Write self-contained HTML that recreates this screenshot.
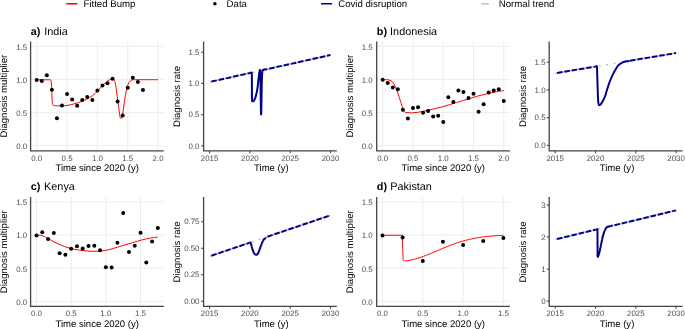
<!DOCTYPE html>
<html><head><meta charset="utf-8"><title>Diagnosis multiplier</title>
<style>
html,body{margin:0;padding:0;background:#fff;}
body{width:685px;height:329px;overflow:hidden;}
svg{display:block;will-change:transform;}
text{font-family:"Liberation Sans", sans-serif;text-rendering:geometricPrecision;}
</style></head><body>
<svg width="685" height="329" viewBox="0 0 685 329">
<rect width="685" height="329" fill="#fff"/>
<line x1="66.8" y1="3.8" x2="76.8" y2="3.8" stroke="#ff0000" stroke-width="1.5" stroke-linecap="round"/>
<text x="83.5" y="6.8" font-size="9.65" fill="#000" text-anchor="start" font-weight="normal">Fitted Bump</text>
<circle cx="214.9" cy="3.8" r="1.75" fill="#000"/>
<text x="226.6" y="6.8" font-size="9.65" fill="#000" text-anchor="start" font-weight="normal">Data</text>
<line x1="321.7" y1="3.8" x2="331.5" y2="3.8" stroke="#00008b" stroke-width="1.6" stroke-linecap="round"/>
<text x="338.2" y="6.8" font-size="9.65" fill="#000" text-anchor="start" font-weight="normal">Covid disruption</text>
<line x1="481.95" y1="3.8" x2="488.35" y2="3.8" stroke="#bebebe" stroke-width="1.5" stroke-linecap="round"/>
<text x="498.8" y="6.8" font-size="9.65" fill="#000" text-anchor="start" font-weight="normal">Normal trend</text>
<line x1="30.4" y1="145.75" x2="163.7" y2="145.75" stroke="#ebebeb" stroke-width="0.9"/>
<line x1="30.4" y1="112.6" x2="163.7" y2="112.6" stroke="#ebebeb" stroke-width="0.9"/>
<line x1="30.4" y1="79.45" x2="163.7" y2="79.45" stroke="#ebebeb" stroke-width="0.9"/>
<line x1="30.4" y1="46.3" x2="163.7" y2="46.3" stroke="#ebebeb" stroke-width="0.9"/>
<line x1="36.7" y1="41.5" x2="36.7" y2="150.8" stroke="#ebebeb" stroke-width="0.9"/>
<line x1="67.05" y1="41.5" x2="67.05" y2="150.8" stroke="#ebebeb" stroke-width="0.9"/>
<line x1="97.4" y1="41.5" x2="97.4" y2="150.8" stroke="#ebebeb" stroke-width="0.9"/>
<line x1="127.75" y1="41.5" x2="127.75" y2="150.8" stroke="#ebebeb" stroke-width="0.9"/>
<line x1="158.1" y1="41.5" x2="158.1" y2="150.8" stroke="#ebebeb" stroke-width="0.9"/>
<text x="27.2" y="149.35" font-size="7.9" fill="#4d4d4d" text-anchor="end" font-weight="normal">0.0</text>
<text x="27.2" y="116.2" font-size="7.9" fill="#4d4d4d" text-anchor="end" font-weight="normal">0.5</text>
<text x="27.2" y="83.05" font-size="7.9" fill="#4d4d4d" text-anchor="end" font-weight="normal">1.0</text>
<text x="27.2" y="49.9" font-size="7.9" fill="#4d4d4d" text-anchor="end" font-weight="normal">1.5</text>
<text x="36.7" y="160.7" font-size="7.9" fill="#4d4d4d" text-anchor="middle" font-weight="normal">0.0</text>
<text x="67.05" y="160.7" font-size="7.9" fill="#4d4d4d" text-anchor="middle" font-weight="normal">0.5</text>
<text x="97.4" y="160.7" font-size="7.9" fill="#4d4d4d" text-anchor="middle" font-weight="normal">1.0</text>
<text x="127.75" y="160.7" font-size="7.9" fill="#4d4d4d" text-anchor="middle" font-weight="normal">1.5</text>
<text x="158.1" y="160.7" font-size="7.9" fill="#4d4d4d" text-anchor="middle" font-weight="normal">2.0</text>
<text x="30.7" y="34.6" font-size="10.85" fill="#000" font-weight="bold">a)</text>
<text x="44.3" y="34.6" font-size="10.85" fill="#000">India</text>
<text x="97.2" y="171" font-size="9.55" fill="#000" text-anchor="middle" font-weight="normal">Time since 2020 (y)</text>
<text x="0" y="0" font-size="9.55" fill="#000" text-anchor="middle" transform="translate(6.9 96.15) rotate(-90)">Diagnosis multiplier</text>
<path d="M36.7 79.8 C38.8 79.8 47 79.75 49.3 79.8 C51.6 79.85 50.17 79.77 50.5 80.1 C50.83 80.43 51.12 80.77 51.3 81.8 C51.48 82.83 51.52 84.55 51.6 86.3 C51.68 88.05 51.73 90.3 51.8 92.3 C51.87 94.3 51.92 96.63 52 98.3 C52.08 99.97 52.17 101.22 52.3 102.3 C52.43 103.38 52.53 104.25 52.8 104.8 C53.07 105.35 53.37 105.43 53.9 105.6 C54.43 105.77 54.65 105.77 56 105.8 C57.35 105.83 60 105.88 62 105.8 C64 105.72 65.83 105.67 68 105.3 C70.17 104.93 72.67 104.27 75 103.6 C77.33 102.93 79.57 102.32 82 101.3 C84.43 100.28 87.43 98.78 89.6 97.5 C91.77 96.22 93.27 95.15 95 93.6 C96.73 92.05 98.33 89.92 100 88.2 C101.67 86.48 103.67 84.55 105 83.3 C106.33 82.05 106.98 81.4 108 80.7 C109.02 80 110.2 79.37 111.1 79.1 C112 78.83 112.77 78.72 113.4 79.1 C114.03 79.48 114.47 80 114.9 81.4 C115.33 82.8 115.62 84.97 116 87.5 C116.38 90.03 116.75 93.3 117.2 96.6 C117.65 99.9 118.27 104.12 118.7 107.3 C119.13 110.48 119.47 113.87 119.8 115.7 C120.13 117.53 120.38 117.97 120.7 118.3 C121.02 118.63 121.32 118.77 121.7 117.7 C122.08 116.63 122.53 114.65 123 111.9 C123.47 109.15 123.95 104.75 124.5 101.2 C125.05 97.65 125.7 93.38 126.3 90.6 C126.9 87.82 127.47 86.08 128.1 84.5 C128.73 82.92 129.25 81.88 130.1 81.1 C130.95 80.32 131.55 80.03 133.2 79.8 C134.85 79.57 135.85 79.72 140 79.7 C144.15 79.68 155.08 79.7 158.1 79.7" fill="none" stroke="#ff0000" stroke-width="1" stroke-linejoin="round"/>
<circle cx="36.7" cy="79.93" r="2.0" fill="#000"/>
<circle cx="41.76" cy="80.92" r="2.0" fill="#000"/>
<circle cx="46.82" cy="75.18" r="2.0" fill="#000"/>
<circle cx="51.88" cy="89.7" r="2.0" fill="#000"/>
<circle cx="56.93" cy="118.21" r="2.0" fill="#000"/>
<circle cx="61.99" cy="105.61" r="2.0" fill="#000"/>
<circle cx="67.05" cy="93.92" r="2.0" fill="#000"/>
<circle cx="72.11" cy="99.4" r="2.0" fill="#000"/>
<circle cx="77.17" cy="105.8" r="2.0" fill="#000"/>
<circle cx="82.23" cy="99.93" r="2.0" fill="#000"/>
<circle cx="87.28" cy="96.89" r="2.0" fill="#000"/>
<circle cx="92.34" cy="99.93" r="2.0" fill="#000"/>
<circle cx="97.4" cy="90.49" r="2.0" fill="#000"/>
<circle cx="102.46" cy="85.41" r="2.0" fill="#000"/>
<circle cx="107.52" cy="83.3" r="2.0" fill="#000"/>
<circle cx="112.58" cy="78.81" r="2.0" fill="#000"/>
<circle cx="117.63" cy="101.38" r="2.0" fill="#000"/>
<circle cx="122.69" cy="115.57" r="2.0" fill="#000"/>
<circle cx="127.75" cy="87.72" r="2.0" fill="#000"/>
<circle cx="132.81" cy="77.69" r="2.0" fill="#000"/>
<circle cx="137.87" cy="81.98" r="2.0" fill="#000"/>
<circle cx="142.93" cy="89.9" r="2.0" fill="#000"/>
<path d="M30.6 41.5 V150.8 H163.8" fill="none" stroke="#444444" stroke-width="1.3"/>
<line x1="201.2" y1="145.9" x2="203.6" y2="145.9" stroke="#444444" stroke-width="1.1"/>
<text x="199.5" y="148.5" font-size="7.9" fill="#4d4d4d" text-anchor="end" font-weight="normal">0.0</text>
<line x1="201.2" y1="114.67" x2="203.6" y2="114.67" stroke="#444444" stroke-width="1.1"/>
<text x="199.5" y="117.27" font-size="7.9" fill="#4d4d4d" text-anchor="end" font-weight="normal">0.5</text>
<line x1="201.2" y1="83.43" x2="203.6" y2="83.43" stroke="#444444" stroke-width="1.1"/>
<text x="199.5" y="86.03" font-size="7.9" fill="#4d4d4d" text-anchor="end" font-weight="normal">1.0</text>
<line x1="201.2" y1="52.2" x2="203.6" y2="52.2" stroke="#444444" stroke-width="1.1"/>
<text x="199.5" y="54.8" font-size="7.9" fill="#4d4d4d" text-anchor="end" font-weight="normal">1.5</text>
<line x1="209.6" y1="150.8" x2="209.6" y2="153.2" stroke="#444444" stroke-width="1.1"/>
<text x="209.6" y="160.7" font-size="7.9" fill="#4d4d4d" text-anchor="middle" font-weight="normal">2015</text>
<line x1="249.9" y1="150.8" x2="249.9" y2="153.2" stroke="#444444" stroke-width="1.1"/>
<text x="249.9" y="160.7" font-size="7.9" fill="#4d4d4d" text-anchor="middle" font-weight="normal">2020</text>
<line x1="290.2" y1="150.8" x2="290.2" y2="153.2" stroke="#444444" stroke-width="1.1"/>
<text x="290.2" y="160.7" font-size="7.9" fill="#4d4d4d" text-anchor="middle" font-weight="normal">2025</text>
<line x1="330.5" y1="150.8" x2="330.5" y2="153.2" stroke="#444444" stroke-width="1.1"/>
<text x="330.5" y="160.7" font-size="7.9" fill="#4d4d4d" text-anchor="middle" font-weight="normal">2030</text>
<text x="271.4" y="171" font-size="9.55" fill="#000" text-anchor="middle" font-weight="normal">Time (y)</text>
<text x="0" y="0" font-size="9.55" fill="#000" text-anchor="middle" transform="translate(179.9 96.45) rotate(-90)">Diagnosis rate</text>
<path d="M203.6 41.5 V150.8 H336.8" fill="none" stroke="#444444" stroke-width="1.3"/>
<line x1="209.6" y1="81.99" x2="330.5" y2="55.01" stroke="#bebebe" stroke-width="1.5" stroke-dasharray="1.85 5.55" stroke-dashoffset="0"/>
<line x1="209.6" y1="81.99" x2="249.9" y2="73" stroke="#00008b" stroke-width="2.0" stroke-dasharray="5.55 1.85" stroke-dashoffset="5.55"/>
<line x1="266.02" y1="69.4" x2="330.5" y2="55.01" stroke="#00008b" stroke-width="2.0" stroke-dasharray="5.55 1.85" stroke-dashoffset="4.16"/>
<path d="M249.9 73 C249.9 73 249.93 72.99 249.94 72.99 C249.95 72.99 249.97 72.98 249.98 72.98 C249.99 72.98 250.01 72.97 250.02 72.97 C250.03 72.97 250.05 72.96 250.06 72.96 C250.07 72.96 250.09 72.95 250.1 72.95 C250.11 72.95 250.13 72.95 250.14 72.94 C250.15 72.94 250.17 72.94 250.18 72.93 C250.19 72.93 250.21 72.93 250.22 72.93 C250.23 72.92 250.25 72.92 250.26 72.92 C250.27 72.91 250.29 72.91 250.3 72.91 C250.31 72.91 250.34 72.9 250.34 72.9 C250.35 72.9 250.38 72.89 250.38 72.89 C250.39 72.89 250.42 72.88 250.42 72.88 C250.43 72.88 250.46 72.87 250.46 72.87 C250.47 72.87 250.5 72.86 250.5 72.86 C250.51 72.86 250.54 72.86 250.54 72.85 C250.55 72.85 250.58 72.85 250.59 72.84 C250.59 72.84 250.62 72.84 250.63 72.84 C250.63 72.83 250.66 72.83 250.67 72.83 C250.67 72.82 250.7 72.82 250.71 72.82 C250.71 72.82 250.74 72.81 250.75 72.81 C250.75 72.81 250.78 72.8 250.79 72.8 C250.79 72.8 250.82 72.79 250.83 72.79 C250.83 72.79 250.86 72.78 250.87 72.78 C250.88 72.78 250.9 72.77 250.91 72.77 C250.92 72.77 250.94 72.77 250.95 72.76 C250.96 72.76 250.98 72.76 250.99 72.75 C251 72.75 251.02 72.75 251.03 72.75 C251.04 72.74 251.06 72.74 251.07 72.74 C251.08 72.73 251.1 72.73 251.11 72.73 C251.12 72.73 251.14 72.72 251.15 72.72 C251.16 72.72 251.18 72.71 251.19 72.71 C251.2 72.71 251.22 72.7 251.23 72.7 C251.24 72.7 251.26 72.69 251.27 72.69 C251.28 72.69 251.3 72.68 251.31 72.68 C251.32 72.68 251.34 72.68 251.35 72.67 C251.36 72.67 251.38 72.67 251.39 72.66 C251.4 72.66 251.42 72.66 251.43 72.66 C251.44 72.65 251.46 72.65 251.47 72.65 C251.48 72.64 251.5 72.64 251.51 72.64 C251.52 72.64 251.54 72.63 251.55 72.63 C251.56 72.63 251.58 72.65 251.59 72.66 C251.6 72.67 251.62 72.72 251.63 72.74 C251.64 72.75 251.67 72.8 251.67 72.81 C251.68 72.83 251.71 72.84 251.71 72.89 C251.72 72.93 251.75 73.19 251.75 73.3 C251.76 73.41 251.79 73.86 251.79 74 C251.8 74.15 251.83 74.18 251.83 74.71 C251.84 75.24 251.87 77.88 251.87 79.3 C251.88 80.73 251.91 87.3 251.91 88.94 C251.92 90.59 251.95 94.79 251.96 95.75 C251.96 96.71 251.99 98.11 252 98.55 C252 99 252.03 100.04 252.04 100.24 C252.04 100.43 252.07 100.49 252.08 100.54 C252.08 100.6 252.11 100.74 252.12 100.78 C252.12 100.83 252.15 100.98 252.16 101.02 C252.16 101.06 252.19 101.17 252.2 101.19 C252.21 101.21 252.23 101.22 252.24 101.22 C252.25 101.23 252.27 101.24 252.28 101.25 C252.29 101.25 252.31 101.27 252.32 101.27 C252.33 101.28 252.35 101.3 252.36 101.3 C252.37 101.31 252.39 101.32 252.4 101.33 C252.41 101.33 252.43 101.35 252.44 101.35 C252.45 101.36 252.47 101.37 252.48 101.37 C252.49 101.37 252.51 101.36 252.52 101.36 C252.53 101.36 252.55 101.36 252.56 101.36 C252.57 101.36 252.59 101.35 252.6 101.35 C252.61 101.35 252.63 101.35 252.64 101.35 C252.65 101.34 252.67 101.34 252.68 101.34 C252.69 101.34 252.71 101.34 252.72 101.34 C252.73 101.33 252.75 101.33 252.76 101.33 C252.77 101.33 252.79 101.33 252.8 101.32 C252.81 101.32 252.83 101.32 252.84 101.32 C252.85 101.32 252.87 101.31 252.88 101.31 C252.89 101.31 252.91 101.31 252.92 101.31 C252.93 101.31 252.95 101.3 252.96 101.3 C252.97 101.3 253 101.3 253 101.3 C253.01 101.3 253.04 101.29 253.04 101.29 C253.05 101.29 253.08 101.29 253.08 101.29 C253.09 101.28 253.12 101.28 253.12 101.28 C253.13 101.28 253.16 101.28 253.16 101.28 C253.17 101.27 253.2 101.27 253.2 101.27 C253.21 101.27 253.24 101.27 253.24 101.26 C253.25 101.26 253.28 101.25 253.29 101.24 C253.29 101.23 253.32 101.21 253.33 101.21 C253.33 101.2 253.36 101.18 253.37 101.17 C253.37 101.17 253.4 101.15 253.41 101.14 C253.41 101.13 253.44 101.11 253.45 101.11 C253.45 101.1 253.48 101.08 253.49 101.07 C253.49 101.07 253.52 101.05 253.53 101.04 C253.54 101.03 253.56 101.01 253.57 101 C253.58 101 253.6 100.98 253.61 100.97 C253.62 100.96 253.64 100.94 253.65 100.94 C253.66 100.93 253.68 100.91 253.69 100.9 C253.7 100.9 253.72 100.88 253.73 100.87 C253.74 100.86 253.76 100.84 253.77 100.84 C253.78 100.83 253.8 100.81 253.81 100.8 C253.82 100.8 253.84 100.78 253.85 100.77 C253.86 100.76 253.88 100.74 253.89 100.73 C253.9 100.73 253.92 100.71 253.93 100.7 C253.94 100.69 253.96 100.67 253.97 100.67 C253.98 100.66 254 100.64 254.01 100.63 C254.02 100.63 254.04 100.61 254.05 100.6 C254.06 100.59 254.08 100.54 254.09 100.52 C254.1 100.5 254.12 100.45 254.13 100.43 C254.14 100.41 254.16 100.36 254.17 100.34 C254.18 100.32 254.2 100.27 254.21 100.25 C254.22 100.24 254.24 100.18 254.25 100.17 C254.26 100.15 254.28 100.1 254.29 100.08 C254.3 100.06 254.32 100.01 254.33 99.99 C254.34 99.97 254.37 99.92 254.37 99.9 C254.38 99.88 254.41 99.83 254.41 99.81 C254.42 99.8 254.45 99.74 254.45 99.73 C254.46 99.71 254.49 99.66 254.49 99.64 C254.5 99.62 254.53 99.57 254.53 99.55 C254.54 99.53 254.57 99.48 254.57 99.46 C254.58 99.44 254.61 99.39 254.62 99.37 C254.62 99.36 254.65 99.3 254.66 99.28 C254.66 99.27 254.69 99.21 254.7 99.2 C254.7 99.18 254.73 99.13 254.74 99.11 C254.74 99.09 254.77 99.04 254.78 99.02 C254.78 99 254.81 98.95 254.82 98.93 C254.82 98.91 254.85 98.86 254.86 98.84 C254.86 98.83 254.89 98.77 254.9 98.75 C254.91 98.74 254.93 98.68 254.94 98.67 C254.95 98.65 254.97 98.6 254.98 98.58 C254.99 98.56 255.01 98.49 255.02 98.47 C255.03 98.44 255.05 98.37 255.06 98.35 C255.07 98.32 255.09 98.25 255.1 98.23 C255.11 98.21 255.13 98.14 255.14 98.11 C255.15 98.09 255.17 98.02 255.18 98 C255.19 97.97 255.21 97.9 255.22 97.88 C255.23 97.85 255.25 97.78 255.26 97.76 C255.27 97.74 255.29 97.67 255.3 97.64 C255.31 97.62 255.33 97.55 255.34 97.52 C255.35 97.5 255.37 97.43 255.38 97.41 C255.39 97.38 255.41 97.31 255.42 97.29 C255.43 97.26 255.45 97.19 255.46 97.17 C255.47 97.15 255.49 97.08 255.5 97.05 C255.51 97.03 255.53 96.96 255.54 96.93 C255.55 96.91 255.57 96.84 255.58 96.82 C255.59 96.79 255.61 96.72 255.62 96.7 C255.63 96.67 255.65 96.6 255.66 96.58 C255.67 96.56 255.7 96.49 255.7 96.46 C255.71 96.44 255.74 96.37 255.74 96.34 C255.75 96.32 255.78 96.25 255.78 96.23 C255.79 96.2 255.82 96.13 255.82 96.11 C255.83 96.08 255.86 96.01 255.86 95.99 C255.87 95.97 255.9 95.9 255.9 95.87 C255.91 95.84 255.94 95.74 255.94 95.71 C255.95 95.68 255.98 95.57 255.99 95.53 C255.99 95.5 256.02 95.39 256.03 95.36 C256.03 95.32 256.06 95.21 256.07 95.18 C256.07 95.14 256.1 95.04 256.11 95 C256.11 94.97 256.14 94.86 256.15 94.83 C256.15 94.79 256.18 94.68 256.19 94.65 C256.19 94.61 256.22 94.51 256.23 94.47 C256.24 94.44 256.26 94.33 256.27 94.29 C256.28 94.26 256.3 94.15 256.31 94.12 C256.32 94.08 256.34 93.98 256.35 93.94 C256.36 93.9 256.38 93.8 256.39 93.76 C256.4 93.73 256.42 93.62 256.43 93.59 C256.44 93.55 256.46 93.44 256.47 93.41 C256.48 93.37 256.5 93.27 256.51 93.23 C256.52 93.19 256.54 93.09 256.55 93.05 C256.56 93.02 256.58 92.91 256.59 92.88 C256.6 92.84 256.62 92.73 256.63 92.7 C256.64 92.66 256.66 92.56 256.67 92.52 C256.68 92.49 256.7 92.38 256.71 92.34 C256.72 92.31 256.74 92.2 256.75 92.17 C256.76 92.13 256.78 92.02 256.79 91.99 C256.8 91.95 256.82 91.85 256.83 91.81 C256.84 91.77 256.86 91.67 256.87 91.63 C256.88 91.6 256.9 91.5 256.91 91.45 C256.92 91.41 256.94 91.27 256.95 91.22 C256.96 91.17 256.98 91.02 256.99 90.97 C257 90.92 257.03 90.77 257.03 90.72 C257.04 90.66 257.07 90.51 257.07 90.46 C257.08 90.41 257.11 90.26 257.11 90.21 C257.12 90.16 257.15 90 257.15 89.95 C257.16 89.9 257.19 89.75 257.19 89.7 C257.2 89.65 257.23 89.5 257.23 89.44 C257.24 89.39 257.27 89.24 257.27 89.19 C257.28 89.14 257.31 88.99 257.32 88.94 C257.32 88.88 257.35 88.73 257.36 88.68 C257.36 88.63 257.39 88.48 257.4 88.43 C257.4 88.38 257.43 88.22 257.44 88.17 C257.44 88.12 257.47 87.97 257.48 87.92 C257.48 87.87 257.51 87.71 257.52 87.66 C257.52 87.61 257.55 87.46 257.56 87.41 C257.57 87.36 257.59 87.2 257.6 87.15 C257.61 87.1 257.63 86.96 257.64 86.9 C257.65 86.84 257.67 86.61 257.68 86.53 C257.69 86.46 257.71 86.23 257.72 86.15 C257.73 86.08 257.75 85.85 257.76 85.78 C257.77 85.7 257.79 85.47 257.8 85.4 C257.81 85.32 257.83 85.09 257.84 85.02 C257.85 84.94 257.87 84.72 257.88 84.64 C257.89 84.57 257.91 84.34 257.92 84.26 C257.93 84.19 257.95 83.96 257.96 83.88 C257.97 83.81 257.99 83.58 258 83.51 C258.01 83.43 258.03 83.2 258.04 83.13 C258.05 83.05 258.07 82.82 258.08 82.75 C258.09 82.67 258.11 82.45 258.12 82.37 C258.13 82.29 258.15 82.07 258.16 81.99 C258.17 81.91 258.19 81.69 258.2 81.61 C258.21 81.54 258.23 81.31 258.24 81.23 C258.25 81.16 258.27 80.93 258.28 80.85 C258.29 80.78 258.31 80.56 258.32 80.49 C258.33 80.42 258.35 80.21 258.36 80.14 C258.37 80.08 258.4 79.87 258.4 79.8 C258.41 79.73 258.44 79.52 258.44 79.45 C258.45 79.39 258.48 79.18 258.48 79.11 C258.49 79.04 258.52 78.83 258.52 78.76 C258.53 78.69 258.56 78.49 258.56 78.42 C258.57 78.35 258.6 78.14 258.6 78.07 C258.61 78 258.64 77.8 258.65 77.73 C258.65 77.66 258.68 77.45 258.69 77.38 C258.69 77.31 258.72 77.11 258.73 77.04 C258.73 76.97 258.76 76.76 258.77 76.69 C258.77 76.62 258.8 76.41 258.81 76.34 C258.81 76.28 258.84 76.07 258.85 76 C258.85 75.93 258.88 75.72 258.89 75.65 C258.89 75.58 258.92 75.38 258.93 75.31 C258.94 75.24 258.96 75.03 258.97 74.96 C258.98 74.9 259 74.71 259.01 74.65 C259.02 74.59 259.04 74.41 259.05 74.34 C259.06 74.28 259.08 74.1 259.09 74.04 C259.1 73.98 259.12 73.79 259.13 73.73 C259.14 73.67 259.16 73.48 259.17 73.42 C259.18 73.36 259.2 73.18 259.21 73.12 C259.22 73.05 259.24 72.87 259.25 72.81 C259.26 72.75 259.28 72.56 259.29 72.5 C259.3 72.44 259.32 72.25 259.33 72.19 C259.34 72.13 259.36 71.94 259.37 71.89 C259.38 71.84 259.4 71.74 259.41 71.71 C259.42 71.67 259.44 71.56 259.45 71.52 C259.46 71.48 259.48 71.37 259.49 71.33 C259.5 71.29 259.52 71.18 259.53 71.15 C259.54 71.11 259.56 71 259.57 70.96 C259.58 70.92 259.6 70.81 259.61 70.77 C259.62 70.73 259.64 70.62 259.65 70.58 C259.66 70.55 259.68 70.43 259.69 70.4 C259.7 70.36 259.73 70.25 259.73 70.21 C259.74 70.17 259.77 70.04 259.77 70.02 C259.78 70 259.81 69.99 259.81 69.99 C259.82 69.98 259.85 69.98 259.85 69.98 C259.86 69.98 259.89 69.97 259.89 69.97 C259.9 69.97 259.93 69.96 259.93 69.96 C259.94 69.96 259.97 69.95 259.98 69.95 C259.98 69.95 260.01 69.94 260.02 69.94 C260.02 69.94 260.05 69.92 260.06 69.93 C260.06 69.95 260.09 70.01 260.1 70.07 C260.1 70.14 260.13 70.49 260.14 70.59 C260.14 70.7 260.17 71.01 260.18 71.12 C260.18 71.22 260.21 71.53 260.22 71.64 C260.22 71.74 260.25 72.01 260.26 72.16 C260.27 72.31 260.29 72.86 260.3 73.15 C260.31 73.44 260.33 74.68 260.34 75.06 C260.35 75.44 260.37 76.59 260.38 76.97 C260.39 77.35 260.41 78.45 260.42 78.88 C260.43 79.31 260.45 80.79 260.46 81.3 C260.47 81.8 260.49 83.39 260.5 83.91 C260.51 84.44 260.53 86.01 260.54 86.53 C260.55 87.06 260.57 88.64 260.58 89.15 C260.59 89.66 260.61 91.15 260.62 91.65 C260.63 92.15 260.65 93.62 260.66 94.11 C260.67 94.61 260.69 96.09 260.7 96.58 C260.71 97.07 260.73 98.55 260.74 99.04 C260.75 99.54 260.77 101 260.78 101.51 C260.79 102.02 260.81 103.59 260.82 104.12 C260.83 104.64 260.85 106.23 260.86 106.76 C260.87 107.29 260.89 108.9 260.9 109.4 C260.91 109.9 260.93 111.39 260.94 111.72 C260.95 112.05 260.97 112.52 260.98 112.72 C260.99 112.92 261.01 113.55 261.02 113.72 C261.03 113.89 261.06 114.39 261.06 114.44 C261.07 114.49 261.1 114.27 261.1 114.23 C261.11 114.18 261.14 114.06 261.14 114.01 C261.15 113.97 261.18 113.97 261.18 113.8 C261.19 113.64 261.22 112.64 261.22 112.34 C261.23 112.04 261.26 111.1 261.26 110.79 C261.27 110.48 261.3 109.55 261.3 109.24 C261.31 108.93 261.34 108.05 261.35 107.68 C261.35 107.31 261.38 105.99 261.39 105.53 C261.39 105.06 261.42 103.54 261.43 103.05 C261.43 102.55 261.46 101.06 261.47 100.57 C261.47 100.07 261.5 98.58 261.51 98.08 C261.51 97.59 261.54 96.07 261.55 95.6 C261.55 95.14 261.58 93.85 261.59 93.42 C261.6 93 261.62 91.78 261.63 91.37 C261.64 90.96 261.66 89.73 261.67 89.32 C261.68 88.91 261.7 87.68 261.71 87.27 C261.72 86.86 261.74 85.63 261.75 85.22 C261.76 84.81 261.78 83.51 261.79 83.16 C261.8 82.82 261.82 82.04 261.83 81.78 C261.84 81.53 261.86 80.84 261.87 80.6 C261.88 80.36 261.9 79.65 261.91 79.41 C261.92 79.18 261.94 78.46 261.95 78.23 C261.96 77.99 261.98 77.28 261.99 77.04 C262 76.8 262.02 76.04 262.03 75.85 C262.04 75.67 262.06 75.29 262.07 75.17 C262.08 75.04 262.1 74.69 262.11 74.57 C262.12 74.45 262.14 74.09 262.15 73.97 C262.16 73.85 262.18 73.49 262.19 73.37 C262.2 73.25 262.22 72.89 262.23 72.77 C262.24 72.65 262.26 72.27 262.27 72.17 C262.28 72.06 262.3 71.74 262.31 71.68 C262.32 71.62 262.34 71.56 262.35 71.53 C262.36 71.49 262.38 71.4 262.39 71.37 C262.4 71.34 262.43 71.25 262.43 71.22 C262.44 71.18 262.47 71.09 262.47 71.06 C262.48 71.03 262.51 70.94 262.51 70.91 C262.52 70.87 262.55 70.78 262.55 70.75 C262.56 70.72 262.59 70.63 262.59 70.6 C262.6 70.56 262.63 70.47 262.63 70.44 C262.64 70.41 262.67 70.32 262.68 70.29 C262.68 70.26 262.71 70.15 262.72 70.14 C262.72 70.12 262.75 70.13 262.76 70.12 C262.76 70.12 262.79 70.11 262.8 70.11 C262.8 70.11 262.83 70.1 262.84 70.09 C262.84 70.09 262.87 70.08 262.88 70.08 C262.88 70.08 262.91 70.07 262.92 70.07 C262.92 70.06 262.95 70.05 262.96 70.05 C262.97 70.05 262.99 70.04 263 70.04 C263.01 70.03 263.03 70.03 263.04 70.02 C263.05 70.02 263.07 70.01 263.08 70.01 C263.09 70.01 263.11 70 263.12 70 C263.13 69.99 263.15 69.98 263.16 69.98 C263.17 69.98 263.19 69.97 263.2 69.97 C263.21 69.96 263.23 69.96 263.24 69.95 C263.25 69.95 263.27 69.94 263.28 69.94 C263.29 69.94 263.31 69.93 263.32 69.92 C263.33 69.92 263.35 69.91 263.36 69.91 C263.37 69.91 263.39 69.9 263.4 69.9 C263.41 69.89 263.43 69.89 263.44 69.88 C263.45 69.88 263.47 69.87 263.48 69.87 C263.49 69.87 263.51 69.86 263.52 69.85 C263.53 69.85 263.55 69.84 263.56 69.84 C263.57 69.84 263.59 69.83 263.6 69.83 C263.61 69.82 263.63 69.82 263.64 69.81 C263.65 69.81 263.67 69.81 263.68 69.81 C263.69 69.8 263.71 69.8 263.72 69.8 C263.73 69.8 263.76 69.79 263.76 69.79 C263.77 69.79 263.8 69.78 263.8 69.78 C263.81 69.78 263.84 69.77 263.84 69.77 C263.85 69.77 263.88 69.76 263.88 69.76 C263.89 69.76 263.92 69.75 263.92 69.75 C263.93 69.75 263.96 69.74 263.96 69.74 C263.97 69.74 264 69.74 264 69.73 C264.01 69.73 264.04 69.73 264.05 69.72 C264.05 69.72 264.08 69.72 264.09 69.72 C264.09 69.71 264.12 69.71 264.13 69.71 C264.13 69.7 264.16 69.7 264.17 69.7 C264.17 69.7 264.2 69.69 264.21 69.69 C264.21 69.69 264.24 69.68 264.25 69.68 C264.25 69.68 264.28 69.67 264.29 69.67 C264.3 69.67 264.32 69.66 264.33 69.66 C264.34 69.66 264.36 69.65 264.37 69.65 C264.38 69.65 264.4 69.65 264.41 69.64 C264.42 69.64 264.44 69.64 264.45 69.63 C264.46 69.63 264.48 69.63 264.49 69.63 C264.5 69.62 264.52 69.62 264.53 69.62 C264.54 69.61 264.56 69.61 264.57 69.61 C264.58 69.61 264.6 69.6 264.61 69.6 C264.62 69.6 264.64 69.59 264.65 69.59 C264.66 69.59 264.68 69.58 264.69 69.58 C264.7 69.58 264.72 69.57 264.73 69.57 C264.74 69.57 264.76 69.56 264.77 69.56 C264.78 69.56 264.8 69.56 264.81 69.55 C264.82 69.55 264.84 69.55 264.85 69.54 C264.86 69.54 264.88 69.54 264.89 69.54 C264.9 69.53 264.92 69.53 264.93 69.53 C264.94 69.52 264.96 69.52 264.97 69.52 C264.98 69.52 265 69.51 265.01 69.51 C265.02 69.51 265.04 69.5 265.05 69.5 C265.06 69.5 265.09 69.49 265.09 69.49 C265.1 69.49 265.13 69.48 265.13 69.48 C265.14 69.48 265.17 69.47 265.17 69.47 C265.18 69.47 265.21 69.47 265.21 69.46 C265.22 69.46 265.25 69.46 265.25 69.45 C265.26 69.45 265.29 69.45 265.29 69.45 C265.3 69.44 265.33 69.44 265.33 69.44 C265.34 69.43 265.37 69.43 265.38 69.43 C265.38 69.43 265.41 69.42 265.42 69.42 C265.42 69.42 265.45 69.41 265.46 69.41 C265.46 69.41 265.49 69.4 265.5 69.4 C265.5 69.4 265.53 69.39 265.54 69.39 C265.54 69.39 265.57 69.38 265.58 69.38 C265.58 69.38 265.61 69.38 265.62 69.37 C265.63 69.37 265.65 69.37 265.66 69.36 C265.67 69.36 265.69 69.36 265.7 69.36 C265.71 69.35 265.73 69.35 265.74 69.35 C265.75 69.34 265.77 69.34 265.78 69.34 C265.79 69.34 265.81 69.33 265.82 69.33 C265.83 69.33 265.85 69.32 265.86 69.32 C265.87 69.32 265.89 69.31 265.9 69.31 C265.91 69.31 265.93 69.3 265.94 69.3 C265.95 69.3 265.97 69.29 265.98 69.29 C265.99 69.29 266.02 69.28 266.02 69.28" fill="none" stroke="#00008b" stroke-width="2.0" stroke-linejoin="round"/>
<line x1="376.5" y1="145.75" x2="509.8" y2="145.75" stroke="#ebebeb" stroke-width="0.9"/>
<line x1="376.5" y1="112.6" x2="509.8" y2="112.6" stroke="#ebebeb" stroke-width="0.9"/>
<line x1="376.5" y1="79.45" x2="509.8" y2="79.45" stroke="#ebebeb" stroke-width="0.9"/>
<line x1="376.5" y1="46.3" x2="509.8" y2="46.3" stroke="#ebebeb" stroke-width="0.9"/>
<line x1="382.7" y1="41.5" x2="382.7" y2="150.8" stroke="#ebebeb" stroke-width="0.9"/>
<line x1="412.97" y1="41.5" x2="412.97" y2="150.8" stroke="#ebebeb" stroke-width="0.9"/>
<line x1="443.25" y1="41.5" x2="443.25" y2="150.8" stroke="#ebebeb" stroke-width="0.9"/>
<line x1="473.52" y1="41.5" x2="473.52" y2="150.8" stroke="#ebebeb" stroke-width="0.9"/>
<line x1="503.8" y1="41.5" x2="503.8" y2="150.8" stroke="#ebebeb" stroke-width="0.9"/>
<text x="372.7" y="149.35" font-size="7.9" fill="#4d4d4d" text-anchor="end" font-weight="normal">0.0</text>
<text x="372.7" y="116.2" font-size="7.9" fill="#4d4d4d" text-anchor="end" font-weight="normal">0.5</text>
<text x="372.7" y="83.05" font-size="7.9" fill="#4d4d4d" text-anchor="end" font-weight="normal">1.0</text>
<text x="372.7" y="49.9" font-size="7.9" fill="#4d4d4d" text-anchor="end" font-weight="normal">1.5</text>
<text x="382.7" y="160.7" font-size="7.9" fill="#4d4d4d" text-anchor="middle" font-weight="normal">0.0</text>
<text x="412.97" y="160.7" font-size="7.9" fill="#4d4d4d" text-anchor="middle" font-weight="normal">0.5</text>
<text x="443.25" y="160.7" font-size="7.9" fill="#4d4d4d" text-anchor="middle" font-weight="normal">1.0</text>
<text x="473.52" y="160.7" font-size="7.9" fill="#4d4d4d" text-anchor="middle" font-weight="normal">1.5</text>
<text x="503.8" y="160.7" font-size="7.9" fill="#4d4d4d" text-anchor="middle" font-weight="normal">2.0</text>
<text x="376.8" y="34.6" font-size="10.85" fill="#000" font-weight="bold">b)</text>
<text x="390.1" y="34.6" font-size="10.85" fill="#000">Indonesia</text>
<text x="443.3" y="171" font-size="9.55" fill="#000" text-anchor="middle" font-weight="normal">Time since 2020 (y)</text>
<text x="0" y="0" font-size="9.55" fill="#000" text-anchor="middle" transform="translate(353 96.15) rotate(-90)">Diagnosis multiplier</text>
<path d="M382.7 79.7 C383.38 79.7 385.6 79.62 386.8 79.7 C388 79.78 389 79.87 389.9 80.2 C390.8 80.53 391.45 80.93 392.2 81.7 C392.95 82.47 393.65 83.45 394.4 84.8 C395.15 86.15 395.93 87.83 396.7 89.8 C397.47 91.77 398.23 94.32 399 96.6 C399.77 98.88 400.67 101.5 401.3 103.5 C401.93 105.5 402.3 107.28 402.8 108.6 C403.3 109.92 403.78 110.75 404.3 111.4 C404.82 112.05 404.88 112.27 405.9 112.5 C406.92 112.73 408.88 112.78 410.4 112.8 C411.92 112.82 413.08 112.8 415 112.6 C416.92 112.4 419.58 112.02 421.9 111.6 C424.22 111.18 426.58 110.62 428.9 110.1 C431.22 109.58 433.5 109.07 435.8 108.5 C438.1 107.93 440.38 107.35 442.7 106.7 C445.02 106.05 447.38 105.3 449.7 104.6 C452.02 103.9 454.3 103.2 456.6 102.5 C458.9 101.8 461.18 101.1 463.5 100.4 C465.82 99.7 468.18 99 470.5 98.3 C472.82 97.6 475.1 96.85 477.4 96.2 C479.7 95.55 481.98 94.97 484.3 94.4 C486.62 93.83 488.98 93.3 491.3 92.8 C493.62 92.3 496.12 91.77 498.2 91.4 C500.28 91.03 502.87 90.73 503.8 90.6" fill="none" stroke="#ff0000" stroke-width="1" stroke-linejoin="round"/>
<circle cx="382.7" cy="79.8" r="2.0" fill="#000"/>
<circle cx="387.75" cy="83.03" r="2.0" fill="#000"/>
<circle cx="392.79" cy="87.59" r="2.0" fill="#000"/>
<circle cx="397.84" cy="89.3" r="2.0" fill="#000"/>
<circle cx="402.88" cy="109.63" r="2.0" fill="#000"/>
<circle cx="407.93" cy="118.48" r="2.0" fill="#000"/>
<circle cx="412.97" cy="107.92" r="2.0" fill="#000"/>
<circle cx="418.02" cy="107.19" r="2.0" fill="#000"/>
<circle cx="423.07" cy="112.67" r="2.0" fill="#000"/>
<circle cx="428.11" cy="111.02" r="2.0" fill="#000"/>
<circle cx="433.16" cy="116.43" r="2.0" fill="#000"/>
<circle cx="438.2" cy="115.7" r="2.0" fill="#000"/>
<circle cx="443.25" cy="121.91" r="2.0" fill="#000"/>
<circle cx="448.3" cy="97.22" r="2.0" fill="#000"/>
<circle cx="453.34" cy="102.11" r="2.0" fill="#000"/>
<circle cx="458.39" cy="90.43" r="2.0" fill="#000"/>
<circle cx="463.43" cy="92.08" r="2.0" fill="#000"/>
<circle cx="468.48" cy="98.08" r="2.0" fill="#000"/>
<circle cx="473.52" cy="93.79" r="2.0" fill="#000"/>
<circle cx="478.57" cy="111.68" r="2.0" fill="#000"/>
<circle cx="483.62" cy="104.22" r="2.0" fill="#000"/>
<circle cx="488.66" cy="92.47" r="2.0" fill="#000"/>
<circle cx="493.71" cy="90.43" r="2.0" fill="#000"/>
<circle cx="498.75" cy="89.3" r="2.0" fill="#000"/>
<circle cx="503.8" cy="100.99" r="2.0" fill="#000"/>
<path d="M376.7 41.5 V150.8 H509.9" fill="none" stroke="#444444" stroke-width="1.3"/>
<line x1="546.8" y1="145.4" x2="549.2" y2="145.4" stroke="#444444" stroke-width="1.1"/>
<text x="545.6" y="148" font-size="7.9" fill="#4d4d4d" text-anchor="end" font-weight="normal">0.0</text>
<line x1="546.8" y1="117.67" x2="549.2" y2="117.67" stroke="#444444" stroke-width="1.1"/>
<text x="545.6" y="120.27" font-size="7.9" fill="#4d4d4d" text-anchor="end" font-weight="normal">0.5</text>
<line x1="546.8" y1="89.93" x2="549.2" y2="89.93" stroke="#444444" stroke-width="1.1"/>
<text x="545.6" y="92.53" font-size="7.9" fill="#4d4d4d" text-anchor="end" font-weight="normal">1.0</text>
<line x1="546.8" y1="62.2" x2="549.2" y2="62.2" stroke="#444444" stroke-width="1.1"/>
<text x="545.6" y="64.8" font-size="7.9" fill="#4d4d4d" text-anchor="end" font-weight="normal">1.5</text>
<line x1="555.2" y1="150.8" x2="555.2" y2="153.2" stroke="#444444" stroke-width="1.1"/>
<text x="555.2" y="160.7" font-size="7.9" fill="#4d4d4d" text-anchor="middle" font-weight="normal">2015</text>
<line x1="595.5" y1="150.8" x2="595.5" y2="153.2" stroke="#444444" stroke-width="1.1"/>
<text x="595.5" y="160.7" font-size="7.9" fill="#4d4d4d" text-anchor="middle" font-weight="normal">2020</text>
<line x1="635.8" y1="150.8" x2="635.8" y2="153.2" stroke="#444444" stroke-width="1.1"/>
<text x="635.8" y="160.7" font-size="7.9" fill="#4d4d4d" text-anchor="middle" font-weight="normal">2025</text>
<line x1="676.1" y1="150.8" x2="676.1" y2="153.2" stroke="#444444" stroke-width="1.1"/>
<text x="676.1" y="160.7" font-size="7.9" fill="#4d4d4d" text-anchor="middle" font-weight="normal">2030</text>
<text x="617" y="171" font-size="9.55" fill="#000" text-anchor="middle" font-weight="normal">Time (y)</text>
<text x="0" y="0" font-size="9.55" fill="#000" text-anchor="middle" transform="translate(526 96.45) rotate(-90)">Diagnosis rate</text>
<path d="M549.2 41.5 V150.8 H682.6" fill="none" stroke="#444444" stroke-width="1.3"/>
<line x1="555.2" y1="73.3" x2="676.1" y2="53" stroke="#bebebe" stroke-width="1.5" stroke-dasharray="1.85 5.55" stroke-dashoffset="0"/>
<line x1="555.2" y1="73.3" x2="596" y2="66.45" stroke="#00008b" stroke-width="2.0" stroke-dasharray="5.55 1.85" stroke-dashoffset="5.55"/>
<line x1="629.5" y1="60.82" x2="676.1" y2="53" stroke="#00008b" stroke-width="2.0" stroke-dasharray="5.55 1.85" stroke-dashoffset="6.89"/>
<path d="M596 66.5 C596.09 66.51 596.76 65.25 596.9 66.6 C597.04 67.95 597.3 77.16 597.4 80 C597.5 82.84 597.81 92.75 597.9 95 C597.99 97.25 598.2 101.51 598.3 102.5 C598.4 103.49 598.71 104.67 598.9 104.9 C599.09 105.13 599.95 104.95 600.2 104.8 C600.45 104.65 601.1 103.85 601.4 103.4 C601.7 102.95 602.82 101.04 603.2 100.3 C603.58 99.56 604.84 96.98 605.2 96 C605.56 95.02 606.48 91.55 606.8 90.5 C607.12 89.45 608.08 86.45 608.4 85.5 C608.72 84.55 609.56 82.09 610 81 C610.44 79.91 612.2 75.83 612.8 74.6 C613.4 73.37 615.36 69.7 616 68.7 C616.64 67.7 618.52 65.24 619.2 64.6 C619.88 63.96 622.07 62.63 622.8 62.3 C623.53 61.97 625.83 61.43 626.5 61.3 C627.17 61.16 629.2 60.98 629.5 60.95" fill="none" stroke="#00008b" stroke-width="2.0" stroke-linejoin="round"/>
<line x1="30.4" y1="301.35" x2="163.7" y2="301.35" stroke="#ebebeb" stroke-width="0.9"/>
<line x1="30.4" y1="268.2" x2="163.7" y2="268.2" stroke="#ebebeb" stroke-width="0.9"/>
<line x1="30.4" y1="235.05" x2="163.7" y2="235.05" stroke="#ebebeb" stroke-width="0.9"/>
<line x1="30.4" y1="201.9" x2="163.7" y2="201.9" stroke="#ebebeb" stroke-width="0.9"/>
<line x1="36.5" y1="197.1" x2="36.5" y2="306.4" stroke="#ebebeb" stroke-width="0.9"/>
<line x1="71.17" y1="197.1" x2="71.17" y2="306.4" stroke="#ebebeb" stroke-width="0.9"/>
<line x1="105.85" y1="197.1" x2="105.85" y2="306.4" stroke="#ebebeb" stroke-width="0.9"/>
<line x1="140.52" y1="197.1" x2="140.52" y2="306.4" stroke="#ebebeb" stroke-width="0.9"/>
<text x="27.2" y="304.65" font-size="7.9" fill="#4d4d4d" text-anchor="end" font-weight="normal">0.0</text>
<text x="27.2" y="271.5" font-size="7.9" fill="#4d4d4d" text-anchor="end" font-weight="normal">0.5</text>
<text x="27.2" y="238.35" font-size="7.9" fill="#4d4d4d" text-anchor="end" font-weight="normal">1.0</text>
<text x="27.2" y="205.2" font-size="7.9" fill="#4d4d4d" text-anchor="end" font-weight="normal">1.5</text>
<text x="36.5" y="316.3" font-size="7.9" fill="#4d4d4d" text-anchor="middle" font-weight="normal">0.0</text>
<text x="71.17" y="316.3" font-size="7.9" fill="#4d4d4d" text-anchor="middle" font-weight="normal">0.5</text>
<text x="105.85" y="316.3" font-size="7.9" fill="#4d4d4d" text-anchor="middle" font-weight="normal">1.0</text>
<text x="140.52" y="316.3" font-size="7.9" fill="#4d4d4d" text-anchor="middle" font-weight="normal">1.5</text>
<text x="30.7" y="190.2" font-size="10.85" fill="#000" font-weight="bold">c)</text>
<text x="44.1" y="190.2" font-size="10.85" fill="#000">Kenya</text>
<text x="97.2" y="326.6" font-size="9.55" fill="#000" text-anchor="middle" font-weight="normal">Time since 2020 (y)</text>
<text x="0" y="0" font-size="9.55" fill="#000" text-anchor="middle" transform="translate(6.9 251.75) rotate(-90)">Diagnosis multiplier</text>
<path d="M36.5 235.2 C37.17 235.22 39.17 235.07 40.5 235.3 C41.83 235.53 42.97 235.88 44.5 236.6 C46.03 237.32 47.18 238.28 49.7 239.6 C52.22 240.92 56.32 243.08 59.6 244.5 C62.88 245.92 66.12 247.17 69.4 248.1 C72.68 249.03 76.02 249.6 79.3 250.1 C82.58 250.6 86.15 250.9 89.1 251.1 C92.05 251.3 94.37 251.4 97 251.3 C99.63 251.2 102.27 250.95 104.9 250.5 C107.53 250.05 109.85 249.42 112.8 248.6 C115.75 247.78 119.32 246.58 122.6 245.6 C125.88 244.62 129.22 243.67 132.5 242.7 C135.78 241.73 139.35 240.57 142.3 239.8 C145.25 239.03 147.62 238.55 150.2 238.1 C152.78 237.65 156.53 237.27 157.8 237.1" fill="none" stroke="#ff0000" stroke-width="1" stroke-linejoin="round"/>
<circle cx="36.5" cy="235.47" r="2.0" fill="#000"/>
<circle cx="42.28" cy="232.37" r="2.0" fill="#000"/>
<circle cx="48.06" cy="238.97" r="2.0" fill="#000"/>
<circle cx="53.84" cy="233.03" r="2.0" fill="#000"/>
<circle cx="59.62" cy="253.14" r="2.0" fill="#000"/>
<circle cx="65.4" cy="254.66" r="2.0" fill="#000"/>
<circle cx="71.17" cy="248.86" r="2.0" fill="#000"/>
<circle cx="76.95" cy="246.22" r="2.0" fill="#000"/>
<circle cx="82.73" cy="248.39" r="2.0" fill="#000"/>
<circle cx="88.51" cy="246.02" r="2.0" fill="#000"/>
<circle cx="94.29" cy="245.82" r="2.0" fill="#000"/>
<circle cx="100.07" cy="250.31" r="2.0" fill="#000"/>
<circle cx="105.85" cy="267.25" r="2.0" fill="#000"/>
<circle cx="111.63" cy="267.45" r="2.0" fill="#000"/>
<circle cx="117.41" cy="242.72" r="2.0" fill="#000"/>
<circle cx="123.19" cy="212.99" r="2.0" fill="#000"/>
<circle cx="128.97" cy="252.02" r="2.0" fill="#000"/>
<circle cx="134.75" cy="245.69" r="2.0" fill="#000"/>
<circle cx="140.52" cy="232.7" r="2.0" fill="#000"/>
<circle cx="146.3" cy="262.57" r="2.0" fill="#000"/>
<circle cx="152.08" cy="241.47" r="2.0" fill="#000"/>
<circle cx="157.86" cy="228.02" r="2.0" fill="#000"/>
<path d="M30.6 197.1 V306.4 H163.8" fill="none" stroke="#444444" stroke-width="1.3"/>
<line x1="201.2" y1="301.2" x2="203.6" y2="301.2" stroke="#444444" stroke-width="1.1"/>
<text x="199.5" y="303.8" font-size="7.9" fill="#4d4d4d" text-anchor="end" font-weight="normal">0.00</text>
<line x1="201.2" y1="274.72" x2="203.6" y2="274.72" stroke="#444444" stroke-width="1.1"/>
<text x="199.5" y="277.32" font-size="7.9" fill="#4d4d4d" text-anchor="end" font-weight="normal">0.25</text>
<line x1="201.2" y1="248.25" x2="203.6" y2="248.25" stroke="#444444" stroke-width="1.1"/>
<text x="199.5" y="250.85" font-size="7.9" fill="#4d4d4d" text-anchor="end" font-weight="normal">0.50</text>
<line x1="201.2" y1="221.77" x2="203.6" y2="221.77" stroke="#444444" stroke-width="1.1"/>
<text x="199.5" y="224.37" font-size="7.9" fill="#4d4d4d" text-anchor="end" font-weight="normal">0.75</text>
<line x1="209.6" y1="306.4" x2="209.6" y2="308.8" stroke="#444444" stroke-width="1.1"/>
<text x="209.6" y="316.3" font-size="7.9" fill="#4d4d4d" text-anchor="middle" font-weight="normal">2015</text>
<line x1="249.9" y1="306.4" x2="249.9" y2="308.8" stroke="#444444" stroke-width="1.1"/>
<text x="249.9" y="316.3" font-size="7.9" fill="#4d4d4d" text-anchor="middle" font-weight="normal">2020</text>
<line x1="290.2" y1="306.4" x2="290.2" y2="308.8" stroke="#444444" stroke-width="1.1"/>
<text x="290.2" y="316.3" font-size="7.9" fill="#4d4d4d" text-anchor="middle" font-weight="normal">2025</text>
<line x1="330.5" y1="306.4" x2="330.5" y2="308.8" stroke="#444444" stroke-width="1.1"/>
<text x="330.5" y="316.3" font-size="7.9" fill="#4d4d4d" text-anchor="middle" font-weight="normal">2030</text>
<text x="271.4" y="326.6" font-size="9.55" fill="#000" text-anchor="middle" font-weight="normal">Time (y)</text>
<text x="0" y="0" font-size="9.55" fill="#000" text-anchor="middle" transform="translate(179.9 252.05) rotate(-90)">Diagnosis rate</text>
<path d="M203.6 197.1 V306.4 H336.8" fill="none" stroke="#444444" stroke-width="1.3"/>
<line x1="209.6" y1="256.3" x2="330.5" y2="215.32" stroke="#bebebe" stroke-width="1.5" stroke-dasharray="1.85 5.55" stroke-dashoffset="0"/>
<line x1="209.6" y1="256.3" x2="249.9" y2="242.64" stroke="#00008b" stroke-width="2.0" stroke-dasharray="5.55 1.85" stroke-dashoffset="5.55"/>
<line x1="266.02" y1="237.17" x2="330.5" y2="215.32" stroke="#00008b" stroke-width="2.0" stroke-dasharray="5.55 1.85" stroke-dashoffset="5.92"/>
<path d="M249.9 242.64 C249.91 242.63 249.96 242.62 249.98 242.61 C250 242.6 250.05 242.59 250.06 242.58 C250.08 242.58 250.13 242.56 250.14 242.56 C250.16 242.55 250.21 242.53 250.22 242.53 C250.24 242.52 250.29 242.51 250.3 242.5 C250.32 242.5 250.37 242.48 250.38 242.47 C250.4 242.47 250.45 242.44 250.46 242.45 C250.48 242.45 250.53 242.51 250.54 242.54 C250.56 242.56 250.61 242.68 250.63 242.71 C250.64 242.75 250.69 242.85 250.71 242.89 C250.72 242.92 250.77 243.02 250.79 243.06 C250.8 243.1 250.85 243.25 250.87 243.31 C250.88 243.36 250.93 243.57 250.95 243.64 C250.96 243.7 251.01 243.9 251.03 243.97 C251.04 244.03 251.09 244.23 251.11 244.3 C251.13 244.37 251.17 244.56 251.19 244.63 C251.21 244.7 251.25 244.9 251.27 244.96 C251.29 245.03 251.33 245.23 251.35 245.3 C251.37 245.36 251.42 245.57 251.43 245.63 C251.45 245.69 251.5 245.85 251.51 245.91 C251.53 245.97 251.58 246.14 251.59 246.19 C251.61 246.25 251.66 246.42 251.67 246.48 C251.69 246.53 251.74 246.7 251.75 246.76 C251.77 246.82 251.82 246.99 251.83 247.04 C251.85 247.1 251.9 247.27 251.91 247.33 C251.93 247.38 251.98 247.55 252 247.61 C252.01 247.67 252.06 247.84 252.08 247.89 C252.09 247.95 252.14 248.12 252.16 248.18 C252.17 248.24 252.22 248.41 252.24 248.46 C252.25 248.52 252.3 248.69 252.32 248.75 C252.33 248.8 252.38 248.98 252.4 249.03 C252.41 249.09 252.46 249.26 252.48 249.32 C252.5 249.38 252.54 249.55 252.56 249.6 C252.58 249.66 252.62 249.79 252.64 249.83 C252.66 249.88 252.7 250 252.72 250.04 C252.74 250.08 252.79 250.21 252.8 250.25 C252.82 250.29 252.87 250.41 252.88 250.45 C252.9 250.5 252.95 250.62 252.96 250.66 C252.98 250.7 253.03 250.83 253.04 250.87 C253.06 250.91 253.11 251.03 253.12 251.08 C253.14 251.12 253.19 251.24 253.2 251.28 C253.22 251.33 253.27 251.45 253.29 251.49 C253.3 251.53 253.35 251.66 253.37 251.7 C253.38 251.74 253.43 251.87 253.45 251.91 C253.46 251.95 253.51 252.08 253.53 252.12 C253.54 252.16 253.59 252.28 253.61 252.33 C253.62 252.37 253.67 252.5 253.69 252.53 C253.7 252.57 253.75 252.66 253.77 252.69 C253.78 252.71 253.83 252.77 253.85 252.79 C253.87 252.81 253.91 252.87 253.93 252.9 C253.95 252.92 253.99 252.98 254.01 253 C254.03 253.02 254.08 253.09 254.09 253.11 C254.11 253.13 254.16 253.19 254.17 253.21 C254.19 253.23 254.24 253.3 254.25 253.32 C254.27 253.34 254.32 253.4 254.33 253.42 C254.35 253.44 254.4 253.51 254.41 253.53 C254.43 253.55 254.48 253.61 254.49 253.64 C254.51 253.66 254.56 253.72 254.57 253.74 C254.59 253.76 254.64 253.83 254.66 253.85 C254.67 253.87 254.72 253.93 254.74 253.95 C254.75 253.98 254.8 254.04 254.82 254.06 C254.83 254.08 254.88 254.14 254.9 254.15 C254.91 254.16 254.96 254.18 254.98 254.19 C254.99 254.2 255.04 254.23 255.06 254.24 C255.07 254.25 255.12 254.27 255.14 254.28 C255.16 254.29 255.2 254.32 255.22 254.32 C255.24 254.33 255.28 254.36 255.3 254.37 C255.32 254.38 255.36 254.4 255.38 254.41 C255.4 254.42 255.45 254.45 255.46 254.45 C255.48 254.46 255.53 254.49 255.54 254.5 C255.56 254.51 255.61 254.53 255.62 254.54 C255.64 254.55 255.69 254.58 255.7 254.59 C255.72 254.6 255.77 254.62 255.78 254.63 C255.8 254.64 255.85 254.67 255.86 254.67 C255.88 254.68 255.93 254.71 255.94 254.72 C255.96 254.73 256.01 254.75 256.03 254.76 C256.04 254.76 256.09 254.75 256.11 254.75 C256.12 254.75 256.17 254.75 256.19 254.75 C256.2 254.74 256.25 254.74 256.27 254.74 C256.28 254.74 256.33 254.74 256.35 254.74 C256.36 254.74 256.41 254.73 256.43 254.73 C256.44 254.73 256.49 254.73 256.51 254.73 C256.53 254.73 256.57 254.72 256.59 254.72 C256.61 254.72 256.65 254.72 256.67 254.72 C256.69 254.72 256.73 254.71 256.75 254.71 C256.77 254.71 256.82 254.71 256.83 254.71 C256.85 254.71 256.9 254.71 256.91 254.7 C256.93 254.7 256.98 254.65 256.99 254.64 C257.01 254.62 257.06 254.57 257.07 254.55 C257.09 254.53 257.14 254.48 257.15 254.47 C257.17 254.45 257.22 254.4 257.23 254.38 C257.25 254.36 257.3 254.31 257.32 254.29 C257.33 254.28 257.38 254.22 257.4 254.21 C257.41 254.19 257.46 254.14 257.48 254.12 C257.49 254.1 257.54 254.05 257.56 254.03 C257.57 254.02 257.62 253.97 257.64 253.95 C257.65 253.93 257.7 253.88 257.72 253.86 C257.73 253.85 257.78 253.8 257.8 253.78 C257.81 253.76 257.86 253.69 257.88 253.66 C257.9 253.63 257.94 253.52 257.96 253.48 C257.98 253.44 258.02 253.34 258.04 253.3 C258.06 253.27 258.11 253.16 258.12 253.13 C258.14 253.09 258.19 252.99 258.2 252.95 C258.22 252.92 258.27 252.81 258.28 252.77 C258.3 252.74 258.35 252.63 258.36 252.6 C258.38 252.56 258.43 252.45 258.44 252.42 C258.46 252.38 258.51 252.28 258.52 252.24 C258.54 252.21 258.59 252.1 258.6 252.06 C258.62 252.03 258.67 251.92 258.69 251.89 C258.7 251.85 258.75 251.75 258.77 251.71 C258.78 251.67 258.83 251.53 258.85 251.49 C258.86 251.45 258.91 251.31 258.93 251.27 C258.94 251.23 258.99 251.09 259.01 251.05 C259.02 251.01 259.07 250.87 259.09 250.83 C259.1 250.78 259.15 250.65 259.17 250.61 C259.19 250.56 259.23 250.43 259.25 250.39 C259.27 250.34 259.31 250.21 259.33 250.16 C259.35 250.12 259.39 249.99 259.41 249.94 C259.43 249.9 259.48 249.77 259.49 249.72 C259.51 249.68 259.56 249.54 259.57 249.5 C259.59 249.46 259.64 249.32 259.65 249.28 C259.67 249.23 259.72 249.1 259.73 249.06 C259.75 249.01 259.8 248.88 259.81 248.83 C259.83 248.79 259.88 248.65 259.89 248.61 C259.91 248.57 259.96 248.44 259.98 248.4 C259.99 248.35 260.04 248.22 260.06 248.18 C260.07 248.14 260.12 248.01 260.14 247.97 C260.15 247.92 260.2 247.79 260.22 247.75 C260.23 247.71 260.28 247.58 260.3 247.54 C260.31 247.49 260.36 247.36 260.38 247.32 C260.39 247.28 260.44 247.15 260.46 247.11 C260.47 247.06 260.52 246.93 260.54 246.89 C260.56 246.85 260.6 246.72 260.62 246.68 C260.64 246.63 260.68 246.5 260.7 246.46 C260.72 246.42 260.76 246.29 260.78 246.24 C260.8 246.2 260.85 246.07 260.86 246.03 C260.88 245.98 260.93 245.86 260.94 245.81 C260.96 245.77 261.01 245.64 261.02 245.6 C261.04 245.55 261.09 245.42 261.1 245.38 C261.12 245.33 261.17 245.2 261.18 245.16 C261.2 245.12 261.25 244.98 261.26 244.94 C261.28 244.9 261.33 244.77 261.35 244.72 C261.36 244.68 261.41 244.55 261.43 244.5 C261.44 244.46 261.49 244.33 261.51 244.28 C261.52 244.24 261.57 244.11 261.59 244.06 C261.6 244.02 261.65 243.89 261.67 243.84 C261.68 243.8 261.73 243.67 261.75 243.62 C261.76 243.58 261.81 243.45 261.83 243.4 C261.84 243.36 261.89 243.23 261.91 243.18 C261.93 243.14 261.97 243.01 261.99 242.96 C262.01 242.92 262.05 242.79 262.07 242.74 C262.09 242.7 262.14 242.56 262.15 242.52 C262.17 242.48 262.22 242.36 262.23 242.32 C262.25 242.29 262.3 242.19 262.31 242.16 C262.33 242.12 262.38 242.02 262.39 241.99 C262.41 241.96 262.46 241.85 262.47 241.82 C262.49 241.79 262.54 241.69 262.55 241.65 C262.57 241.62 262.62 241.52 262.63 241.48 C262.65 241.45 262.7 241.35 262.72 241.32 C262.73 241.28 262.78 241.18 262.8 241.15 C262.81 241.11 262.86 241.01 262.88 240.98 C262.89 240.95 262.94 240.84 262.96 240.81 C262.97 240.78 263.02 240.68 263.04 240.64 C263.05 240.61 263.1 240.5 263.12 240.48 C263.13 240.45 263.18 240.38 263.2 240.36 C263.22 240.34 263.26 240.27 263.28 240.25 C263.3 240.23 263.34 240.16 263.36 240.13 C263.38 240.11 263.42 240.04 263.44 240.02 C263.46 240 263.51 239.93 263.52 239.91 C263.54 239.88 263.59 239.82 263.6 239.79 C263.62 239.77 263.67 239.7 263.68 239.68 C263.7 239.66 263.75 239.59 263.76 239.56 C263.78 239.54 263.83 239.47 263.84 239.45 C263.86 239.43 263.91 239.36 263.92 239.34 C263.94 239.31 263.99 239.25 264 239.23 C264.02 239.21 264.07 239.18 264.09 239.17 C264.1 239.16 264.15 239.12 264.17 239.11 C264.18 239.1 264.23 239.06 264.25 239.05 C264.26 239.03 264.31 239 264.33 238.99 C264.34 238.97 264.39 238.94 264.41 238.92 C264.42 238.91 264.47 238.88 264.49 238.86 C264.5 238.85 264.55 238.81 264.57 238.8 C264.59 238.79 264.63 238.75 264.65 238.74 C264.67 238.73 264.71 238.69 264.73 238.68 C264.75 238.67 264.79 238.63 264.81 238.62 C264.83 238.61 264.88 238.57 264.89 238.56 C264.91 238.54 264.96 238.51 264.97 238.49 C264.99 238.48 265.04 238.45 265.05 238.43 C265.07 238.42 265.12 238.38 265.13 238.37 C265.15 238.36 265.2 238.32 265.21 238.31 C265.23 238.3 265.28 238.26 265.29 238.25 C265.31 238.24 265.36 238.2 265.38 238.19 C265.39 238.17 265.44 238.14 265.46 238.13 C265.47 238.11 265.52 238.08 265.54 238.06 C265.55 238.05 265.6 238.01 265.62 238 C265.63 237.99 265.68 237.95 265.7 237.94 C265.71 237.93 265.76 237.89 265.78 237.88 C265.79 237.87 265.84 237.83 265.86 237.82 C265.87 237.8 265.92 237.77 265.94 237.76 C265.96 237.74 266.01 237.7 266.02 237.69" fill="none" stroke="#00008b" stroke-width="2.0" stroke-linejoin="round"/>
<line x1="376.5" y1="301.35" x2="509.8" y2="301.35" stroke="#ebebeb" stroke-width="0.9"/>
<line x1="376.5" y1="268.2" x2="509.8" y2="268.2" stroke="#ebebeb" stroke-width="0.9"/>
<line x1="376.5" y1="235.05" x2="509.8" y2="235.05" stroke="#ebebeb" stroke-width="0.9"/>
<line x1="376.5" y1="201.9" x2="509.8" y2="201.9" stroke="#ebebeb" stroke-width="0.9"/>
<line x1="382.5" y1="197.1" x2="382.5" y2="306.4" stroke="#ebebeb" stroke-width="0.9"/>
<line x1="422.8" y1="197.1" x2="422.8" y2="306.4" stroke="#ebebeb" stroke-width="0.9"/>
<line x1="463.1" y1="197.1" x2="463.1" y2="306.4" stroke="#ebebeb" stroke-width="0.9"/>
<line x1="503.4" y1="197.1" x2="503.4" y2="306.4" stroke="#ebebeb" stroke-width="0.9"/>
<text x="372.7" y="304.65" font-size="7.9" fill="#4d4d4d" text-anchor="end" font-weight="normal">0.0</text>
<text x="372.7" y="271.5" font-size="7.9" fill="#4d4d4d" text-anchor="end" font-weight="normal">0.5</text>
<text x="372.7" y="238.35" font-size="7.9" fill="#4d4d4d" text-anchor="end" font-weight="normal">1.0</text>
<text x="372.7" y="205.2" font-size="7.9" fill="#4d4d4d" text-anchor="end" font-weight="normal">1.5</text>
<text x="382.5" y="316.3" font-size="7.9" fill="#4d4d4d" text-anchor="middle" font-weight="normal">0.0</text>
<text x="422.8" y="316.3" font-size="7.9" fill="#4d4d4d" text-anchor="middle" font-weight="normal">0.5</text>
<text x="463.1" y="316.3" font-size="7.9" fill="#4d4d4d" text-anchor="middle" font-weight="normal">1.0</text>
<text x="503.4" y="316.3" font-size="7.9" fill="#4d4d4d" text-anchor="middle" font-weight="normal">1.5</text>
<text x="376.8" y="190.2" font-size="10.85" fill="#000" font-weight="bold">d)</text>
<text x="390.3" y="190.2" font-size="10.85" fill="#000">Pakistan</text>
<text x="443.3" y="326.6" font-size="9.55" fill="#000" text-anchor="middle" font-weight="normal">Time since 2020 (y)</text>
<text x="0" y="0" font-size="9.55" fill="#000" text-anchor="middle" transform="translate(353 251.75) rotate(-90)">Diagnosis multiplier</text>
<path d="M382.5 235.3 C385.65 235.3 398.15 235.2 401.4 235.3 C404.65 235.4 401.83 235.07 402 235.9 C402.17 236.73 402.28 238.23 402.4 240.3 C402.52 242.37 402.6 245.63 402.7 248.3 C402.8 250.97 402.9 254.27 403 256.3 C403.1 258.33 402.92 259.72 403.3 260.5 C403.68 261.28 404.63 260.94 405.3 260.98 C405.97 261.02 406.64 260.82 407.3 260.73 C407.97 260.63 408.64 260.52 409.31 260.4 C409.97 260.28 410.64 260.15 411.31 260.01 C411.98 259.86 412.64 259.71 413.31 259.55 C413.98 259.38 414.64 259.21 415.31 259.03 C415.98 258.84 416.65 258.65 417.31 258.45 C417.98 258.25 418.65 258.04 419.32 257.82 C419.98 257.6 420.65 257.37 421.32 257.14 C421.99 256.91 422.65 256.67 423.32 256.42 C423.99 256.17 424.65 255.92 425.32 255.66 C425.99 255.41 426.66 255.14 427.32 254.87 C427.99 254.61 428.66 254.34 429.33 254.06 C429.99 253.79 430.66 253.51 431.33 253.23 C432 252.95 432.66 252.66 433.33 252.38 C434 252.09 434.66 251.81 435.33 251.52 C436 251.23 436.67 250.95 437.33 250.66 C438 250.37 438.67 250.08 439.34 249.8 C440 249.51 440.67 249.23 441.34 248.94 C442.01 248.66 442.67 248.38 443.34 248.1 C444.01 247.82 444.67 247.54 445.34 247.27 C446.01 247 446.68 246.73 447.34 246.46 C448.01 246.19 448.68 245.93 449.35 245.67 C450.01 245.41 450.68 245.15 451.35 244.9 C452.02 244.65 452.68 244.41 453.35 244.16 C454.02 243.92 454.68 243.69 455.35 243.46 C456.02 243.22 456.69 243 457.35 242.78 C458.02 242.56 458.69 242.34 459.36 242.13 C460.02 241.92 460.69 241.72 461.36 241.52 C462.03 241.32 462.69 241.12 463.36 240.94 C464.03 240.75 464.69 240.57 465.36 240.39 C466.03 240.21 466.7 240.04 467.36 239.88 C468.03 239.71 468.7 239.55 469.37 239.4 C470.03 239.25 470.7 239.1 471.37 238.96 C472.04 238.81 472.7 238.68 473.37 238.54 C474.04 238.41 474.7 238.28 475.37 238.16 C476.04 238.04 476.71 237.92 477.37 237.81 C478.04 237.7 478.71 237.59 479.38 237.49 C480.04 237.38 480.71 237.29 481.38 237.19 C482.05 237.1 482.71 237.01 483.38 236.92 C484.05 236.84 484.71 236.76 485.38 236.68 C486.05 236.6 486.72 236.53 487.38 236.46 C488.05 236.39 488.72 236.32 489.39 236.26 C490.05 236.2 490.72 236.14 491.39 236.08 C492.06 236.03 492.72 235.97 493.39 235.92 C494.06 235.87 494.72 235.82 495.39 235.78 C496.06 235.73 496.73 235.69 497.39 235.65 C498.06 235.61 498.73 235.57 499.4 235.54 C500.06 235.5 500.73 235.47 501.4 235.44 C502.07 235.41 503.07 235.37 503.4 235.35" fill="none" stroke="#ff0000" stroke-width="1" stroke-linejoin="round"/>
<circle cx="382.5" cy="235.6" r="2.0" fill="#000"/>
<circle cx="402.65" cy="237.58" r="2.0" fill="#000"/>
<circle cx="422.8" cy="260.88" r="2.0" fill="#000"/>
<circle cx="442.95" cy="241.67" r="2.0" fill="#000"/>
<circle cx="463.1" cy="245.04" r="2.0" fill="#000"/>
<circle cx="483.25" cy="240.88" r="2.0" fill="#000"/>
<circle cx="503.4" cy="238.11" r="2.0" fill="#000"/>
<path d="M376.7 197.1 V306.4 H509.9" fill="none" stroke="#444444" stroke-width="1.3"/>
<line x1="546.8" y1="301.1" x2="549.2" y2="301.1" stroke="#444444" stroke-width="1.1"/>
<text x="545.6" y="303.7" font-size="7.9" fill="#4d4d4d" text-anchor="end" font-weight="normal">0</text>
<line x1="546.8" y1="269.05" x2="549.2" y2="269.05" stroke="#444444" stroke-width="1.1"/>
<text x="545.6" y="271.65" font-size="7.9" fill="#4d4d4d" text-anchor="end" font-weight="normal">1</text>
<line x1="546.8" y1="237" x2="549.2" y2="237" stroke="#444444" stroke-width="1.1"/>
<text x="545.6" y="239.6" font-size="7.9" fill="#4d4d4d" text-anchor="end" font-weight="normal">2</text>
<line x1="546.8" y1="204.95" x2="549.2" y2="204.95" stroke="#444444" stroke-width="1.1"/>
<text x="545.6" y="207.55" font-size="7.9" fill="#4d4d4d" text-anchor="end" font-weight="normal">3</text>
<line x1="555.2" y1="306.4" x2="555.2" y2="308.8" stroke="#444444" stroke-width="1.1"/>
<text x="555.2" y="316.3" font-size="7.9" fill="#4d4d4d" text-anchor="middle" font-weight="normal">2015</text>
<line x1="595.5" y1="306.4" x2="595.5" y2="308.8" stroke="#444444" stroke-width="1.1"/>
<text x="595.5" y="316.3" font-size="7.9" fill="#4d4d4d" text-anchor="middle" font-weight="normal">2020</text>
<line x1="635.8" y1="306.4" x2="635.8" y2="308.8" stroke="#444444" stroke-width="1.1"/>
<text x="635.8" y="316.3" font-size="7.9" fill="#4d4d4d" text-anchor="middle" font-weight="normal">2025</text>
<line x1="676.1" y1="306.4" x2="676.1" y2="308.8" stroke="#444444" stroke-width="1.1"/>
<text x="676.1" y="316.3" font-size="7.9" fill="#4d4d4d" text-anchor="middle" font-weight="normal">2030</text>
<text x="617" y="326.6" font-size="9.55" fill="#000" text-anchor="middle" font-weight="normal">Time (y)</text>
<text x="0" y="0" font-size="9.55" fill="#000" text-anchor="middle" transform="translate(526 252.05) rotate(-90)">Diagnosis rate</text>
<path d="M549.2 197.1 V306.4 H682.6" fill="none" stroke="#444444" stroke-width="1.3"/>
<line x1="555.2" y1="239.4" x2="676.1" y2="210.4" stroke="#bebebe" stroke-width="1.5" stroke-dasharray="1.85 5.55" stroke-dashoffset="0"/>
<line x1="555.2" y1="239.4" x2="595.5" y2="229.74" stroke="#00008b" stroke-width="2.0" stroke-dasharray="5.55 1.85" stroke-dashoffset="5.55"/>
<line x1="610.81" y1="226.06" x2="676.1" y2="210.4" stroke="#00008b" stroke-width="2.0" stroke-dasharray="5.55 1.85" stroke-dashoffset="3.54"/>
<path d="M595.5 229.74 C595.51 229.73 595.56 229.72 595.58 229.72 C595.59 229.71 595.64 229.7 595.65 229.7 C595.67 229.69 595.71 229.68 595.73 229.68 C595.75 229.68 595.79 229.67 595.81 229.66 C595.82 229.66 595.87 229.65 595.88 229.64 C595.9 229.64 595.94 229.63 595.96 229.63 C595.97 229.62 596.02 229.61 596.04 229.61 C596.05 229.6 596.1 229.59 596.11 229.59 C596.13 229.58 596.17 229.57 596.19 229.57 C596.2 229.57 596.25 229.56 596.27 229.55 C596.28 229.55 596.33 229.54 596.34 229.53 C596.36 229.53 596.4 229.52 596.42 229.51 C596.43 229.51 596.48 229.5 596.5 229.5 C596.51 229.49 596.56 229.48 596.57 229.48 C596.59 229.47 596.63 229.46 596.65 229.46 C596.66 229.46 596.71 229.45 596.73 229.44 C596.74 229.44 596.79 229.43 596.8 229.42 C596.82 229.42 596.86 229.41 596.88 229.4 C596.89 229.4 596.94 229.39 596.95 229.39 C596.97 229.38 597.02 229.37 597.03 229.37 C597.05 229.36 597.09 229.35 597.11 229.35 C597.12 229.35 597.17 229.33 597.18 229.33 C597.2 229.33 597.25 229.32 597.26 229.31 C597.28 229.31 597.32 229.3 597.34 229.29 C597.35 229.29 597.4 228.74 597.41 229.28 C597.43 229.81 597.48 232.1 597.49 234.61 C597.51 237.13 597.55 252.24 597.57 254.43 C597.58 256.62 597.63 256.28 597.64 256.51 C597.66 256.73 597.71 256.66 597.72 256.7 C597.74 256.73 597.78 256.82 597.8 256.82 C597.81 256.82 597.86 256.72 597.87 256.7 C597.89 256.68 597.93 256.61 597.95 256.58 C597.97 256.56 598.01 256.48 598.03 256.45 C598.04 256.42 598.09 256.33 598.1 256.3 C598.12 256.27 598.16 256.18 598.18 256.15 C598.2 256.12 598.24 256.01 598.26 255.98 C598.27 255.94 598.32 255.84 598.33 255.8 C598.35 255.76 598.39 255.65 598.41 255.61 C598.42 255.58 598.47 255.45 598.49 255.41 C598.5 255.37 598.55 255.25 598.56 255.21 C598.58 255.16 598.62 255.03 598.64 254.98 C598.65 254.94 598.7 254.8 598.72 254.75 C598.73 254.71 598.78 254.57 598.79 254.52 C598.81 254.47 598.85 254.32 598.87 254.27 C598.88 254.22 598.93 254.07 598.95 254.01 C598.96 253.96 599.01 253.8 599.02 253.75 C599.04 253.69 599.08 253.53 599.1 253.47 C599.11 253.42 599.16 253.25 599.18 253.2 C599.19 253.14 599.24 252.96 599.25 252.9 C599.27 252.84 599.31 252.67 599.33 252.61 C599.34 252.55 599.39 252.37 599.41 252.3 C599.42 252.24 599.47 252.05 599.48 251.99 C599.5 251.93 599.54 251.74 599.56 251.68 C599.57 251.61 599.62 251.42 599.63 251.35 C599.65 251.28 599.7 251.09 599.71 251.02 C599.73 250.95 599.77 250.76 599.79 250.69 C599.8 250.62 599.85 250.41 599.86 250.34 C599.88 250.28 599.93 250.07 599.94 250 C599.96 249.93 600 249.72 600.02 249.65 C600.03 249.58 600.08 249.37 600.09 249.3 C600.11 249.23 600.16 249.01 600.17 248.94 C600.19 248.87 600.23 248.65 600.25 248.58 C600.26 248.51 600.31 248.29 600.32 248.22 C600.34 248.14 600.39 247.92 600.4 247.85 C600.42 247.78 600.46 247.55 600.48 247.48 C600.49 247.41 600.54 247.18 600.55 247.11 C600.57 247.04 600.61 246.81 600.63 246.74 C600.65 246.66 600.69 246.44 600.71 246.36 C600.72 246.29 600.77 246.06 600.78 245.99 C600.8 245.91 600.84 245.69 600.86 245.61 C600.88 245.53 600.92 245.31 600.94 245.23 C600.95 245.16 601 244.93 601.01 244.86 C601.03 244.78 601.07 244.56 601.09 244.48 C601.1 244.4 601.15 244.18 601.17 244.1 C601.18 244.03 601.23 243.8 601.24 243.73 C601.26 243.65 601.3 243.43 601.32 243.35 C601.33 243.28 601.38 243.05 601.4 242.98 C601.41 242.9 601.46 242.68 601.47 242.61 C601.49 242.53 601.53 242.31 601.55 242.24 C601.56 242.16 601.61 241.94 601.63 241.87 C601.64 241.8 601.69 241.58 601.7 241.5 C601.72 241.43 601.76 241.21 601.78 241.14 C601.79 241.07 601.84 240.85 601.86 240.78 C601.87 240.71 601.92 240.49 601.93 240.42 C601.95 240.35 601.99 240.14 602.01 240.07 C602.02 240 602.07 239.79 602.09 239.72 C602.1 239.65 602.15 239.44 602.16 239.37 C602.18 239.3 602.22 239.09 602.24 239.03 C602.25 238.96 602.3 238.75 602.31 238.69 C602.33 238.62 602.38 238.41 602.39 238.35 C602.41 238.28 602.45 238.09 602.47 238.02 C602.48 237.95 602.53 237.76 602.54 237.69 C602.56 237.63 602.61 237.43 602.62 237.37 C602.64 237.3 602.68 237.12 602.7 237.05 C602.71 236.99 602.76 236.8 602.77 236.74 C602.79 236.67 602.84 236.49 602.85 236.43 C602.87 236.37 602.91 236.19 602.93 236.13 C602.94 236.07 602.99 235.88 603 235.82 C603.02 235.77 603.07 235.59 603.08 235.53 C603.1 235.48 603.14 235.3 603.16 235.24 C603.17 235.19 603.22 235.02 603.23 234.96 C603.25 234.91 603.29 234.74 603.31 234.68 C603.33 234.63 603.37 234.46 603.39 234.41 C603.4 234.35 603.45 234.2 603.46 234.14 C603.48 234.09 603.52 233.93 603.54 233.88 C603.56 233.83 603.6 233.67 603.62 233.62 C603.63 233.57 603.68 233.43 603.69 233.38 C603.71 233.33 603.75 233.18 603.77 233.13 C603.78 233.08 603.83 232.94 603.85 232.89 C603.86 232.84 603.91 232.7 603.92 232.65 C603.94 232.61 603.98 232.47 604 232.42 C604.01 232.38 604.06 232.24 604.08 232.2 C604.09 232.16 604.14 232.02 604.15 231.98 C604.17 231.94 604.21 231.81 604.23 231.77 C604.24 231.72 604.29 231.6 604.31 231.56 C604.32 231.52 604.37 231.39 604.38 231.35 C604.4 231.31 604.44 231.2 604.46 231.16 C604.47 231.12 604.52 231 604.54 230.97 C604.55 230.93 604.6 230.81 604.61 230.78 C604.63 230.74 604.67 230.63 604.69 230.6 C604.7 230.56 604.75 230.45 604.76 230.42 C604.78 230.38 604.83 230.28 604.84 230.24 C604.86 230.21 604.9 230.11 604.92 230.08 C604.93 230.04 604.98 229.94 604.99 229.91 C605.01 229.88 605.06 229.79 605.07 229.75 C605.09 229.72 605.13 229.63 605.15 229.6 C605.16 229.57 605.21 229.48 605.22 229.45 C605.24 229.42 605.29 229.33 605.3 229.31 C605.32 229.28 605.36 229.19 605.38 229.16 C605.39 229.13 605.44 229.05 605.45 229.03 C605.47 229 605.52 228.92 605.53 228.89 C605.55 228.87 605.59 228.79 605.61 228.76 C605.62 228.74 605.67 228.67 605.68 228.64 C605.7 228.62 605.75 228.54 605.76 228.52 C605.78 228.5 605.82 228.43 605.84 228.4 C605.85 228.38 605.9 228.31 605.91 228.29 C605.93 228.27 605.97 228.2 605.99 228.18 C606.01 228.16 606.05 228.1 606.07 228.08 C606.08 228.06 606.13 227.99 606.14 227.97 C606.16 227.95 606.2 227.89 606.22 227.87 C606.24 227.85 606.28 227.8 606.3 227.78 C606.31 227.76 606.36 227.7 606.37 227.68 C606.39 227.66 606.43 227.61 606.45 227.59 C606.46 227.58 606.51 227.52 606.53 227.51 C606.54 227.49 606.59 227.44 606.6 227.42 C606.62 227.41 606.66 227.36 606.68 227.34 C606.69 227.33 606.74 227.28 606.76 227.26 C606.77 227.25 606.82 227.2 606.83 227.19 C606.85 227.17 606.89 227.13 606.91 227.11 C606.92 227.1 606.97 227.05 606.99 227.04 C607 227.03 607.05 226.98 607.06 226.97 C607.08 226.96 607.12 226.95 607.14 226.94 C607.15 226.94 607.2 226.93 607.22 226.92 C607.23 226.92 607.28 226.91 607.29 226.91 C607.31 226.9 607.35 226.89 607.37 226.89 C607.38 226.88 607.43 226.87 607.44 226.87 C607.46 226.87 607.51 226.85 607.52 226.85 C607.54 226.85 607.58 226.84 607.6 226.83 C607.61 226.83 607.66 226.82 607.67 226.81 C607.69 226.81 607.74 226.8 607.75 226.8 C607.77 226.79 607.81 226.78 607.83 226.78 C607.84 226.77 607.89 226.76 607.9 226.76 C607.92 226.76 607.97 226.74 607.98 226.74 C608 226.74 608.04 226.73 608.06 226.72 C608.07 226.72 608.12 226.71 608.13 226.7 C608.15 226.7 608.2 226.69 608.21 226.69 C608.23 226.68 608.27 226.67 608.29 226.67 C608.3 226.66 608.35 226.65 608.36 226.65 C608.38 226.65 608.43 226.63 608.44 226.63 C608.46 226.63 608.5 226.62 608.52 226.61 C608.53 226.61 608.58 226.6 608.59 226.59 C608.61 226.59 608.65 226.58 608.67 226.58 C608.69 226.57 608.73 226.56 608.75 226.56 C608.76 226.55 608.81 226.54 608.82 226.54 C608.84 226.54 608.88 226.52 608.9 226.52 C608.92 226.52 608.96 226.51 608.98 226.5 C608.99 226.5 609.04 226.49 609.05 226.48 C609.07 226.48 609.11 226.47 609.13 226.47 C609.14 226.46 609.19 226.45 609.21 226.45 C609.22 226.44 609.27 226.43 609.28 226.43 C609.3 226.43 609.34 226.41 609.36 226.41 C609.37 226.41 609.42 226.4 609.44 226.39 C609.45 226.39 609.5 226.38 609.51 226.37 C609.53 226.37 609.57 226.36 609.59 226.36 C609.6 226.35 609.65 226.34 609.67 226.34 C609.68 226.33 609.73 226.32 609.74 226.32 C609.76 226.31 609.8 226.3 609.82 226.3 C609.83 226.3 609.88 226.29 609.9 226.28 C609.91 226.28 609.96 226.27 609.97 226.26 C609.99 226.26 610.03 226.25 610.05 226.25 C610.06 226.24 610.11 226.23 610.12 226.23 C610.14 226.22 610.19 226.21 610.2 226.21 C610.22 226.2 610.26 226.19 610.28 226.19 C610.29 226.19 610.34 226.18 610.35 226.17 C610.37 226.17 610.42 226.16 610.43 226.15 C610.45 226.15 610.49 226.14 610.51 226.13 C610.52 226.13 610.57 226.12 610.58 226.12 C610.6 226.11 610.65 226.1 610.66 226.1 C610.68 226.09 610.72 226.08 610.74 226.08 C610.75 226.08 610.81 226.06 610.81 226.06" fill="none" stroke="#00008b" stroke-width="2.0" stroke-linejoin="round"/>
</svg>
</body></html>
